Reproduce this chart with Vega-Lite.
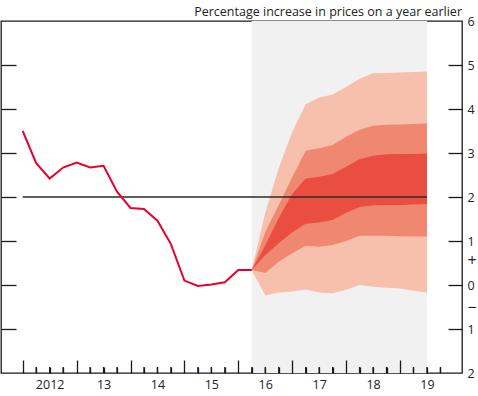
{
  "$schema": "https://vega.github.io/schema/vega-lite/v6.json",
  "width": 461,
  "height": 352,
  "autosize": {"type": "none"},
  "padding": {"left": 1, "top": 21, "right": 16, "bottom": 23},
  "background": "white",
  "view": {"stroke": "#1a1a1a", "strokeWidth": 1.3},
  "config": {
    "font": "Open Sans",
    "axis": {"labelFont": "Open Sans", "labelFontSize": 12.5, "labelColor": "#222", "tickColor": "#1a1a1a", "tickWidth": 1.3, "domain": false, "grid": false, "title": null}
  },
  "title": {"text": "Percentage increase in prices on a year earlier", "anchor": "end", "frame": "group", "orient": "top", "baseline": "alphabetic", "offset": 0, "dy": 13, "fontSize": 12.5, "fontWeight": "normal", "font": "Open Sans", "color": "#222"},
  "datasets": {
    "cpi": [
      {"t": 2012.0, "v": 3.5}, {"t": 2012.25, "v": 2.77}, {"t": 2012.5, "v": 2.42}, {"t": 2012.75, "v": 2.67},
      {"t": 2013.0, "v": 2.78}, {"t": 2013.25, "v": 2.67}, {"t": 2013.5, "v": 2.71}, {"t": 2013.75, "v": 2.12},
      {"t": 2014.0, "v": 1.75}, {"t": 2014.25, "v": 1.73}, {"t": 2014.5, "v": 1.46}, {"t": 2014.75, "v": 0.93},
      {"t": 2015.0, "v": 0.1}, {"t": 2015.25, "v": -0.02}, {"t": 2015.5, "v": 0.01}, {"t": 2015.75, "v": 0.06},
      {"t": 2016.0, "v": 0.34}, {"t": 2016.25, "v": 0.34}
    ],
    "fan": [
      {"t": 2016.25, "b1": 0.34, "b2": 0.34, "b3": 0.34, "b4": 0.34, "b5": 0.34, "b6": 0.34},
      {"t": 2016.5, "b1": 1.64, "b2": 1.2, "b3": 0.9, "b4": 0.68, "b5": 0.27, "b6": -0.24},
      {"t": 2016.75, "b1": 2.66, "b2": 1.82, "b3": 1.52, "b4": 0.95, "b5": 0.53, "b6": -0.17},
      {"t": 2017.0, "b1": 3.48, "b2": 2.45, "b3": 2.07, "b4": 1.2, "b5": 0.72, "b6": -0.15},
      {"t": 2017.25, "b1": 4.11, "b2": 3.05, "b3": 2.42, "b4": 1.39, "b5": 0.89, "b6": -0.1},
      {"t": 2017.5, "b1": 4.26, "b2": 3.11, "b3": 2.46, "b4": 1.42, "b5": 0.87, "b6": -0.17},
      {"t": 2017.75, "b1": 4.33, "b2": 3.18, "b3": 2.52, "b4": 1.48, "b5": 0.91, "b6": -0.19},
      {"t": 2018.0, "b1": 4.5, "b2": 3.37, "b3": 2.69, "b4": 1.64, "b5": 1.0, "b6": -0.11},
      {"t": 2018.25, "b1": 4.69, "b2": 3.53, "b3": 2.86, "b4": 1.77, "b5": 1.12, "b6": 0.0},
      {"t": 2018.5, "b1": 4.81, "b2": 3.62, "b3": 2.94, "b4": 1.81, "b5": 1.12, "b6": -0.04},
      {"t": 2018.75, "b1": 4.82, "b2": 3.64, "b3": 2.97, "b4": 1.82, "b5": 1.12, "b6": -0.06},
      {"t": 2019.0, "b1": 4.83, "b2": 3.65, "b3": 2.98, "b4": 1.82, "b5": 1.11, "b6": -0.08},
      {"t": 2019.25, "b1": 4.84, "b2": 3.66, "b3": 2.98, "b4": 1.83, "b5": 1.1, "b6": -0.13},
      {"t": 2019.5, "b1": 4.85, "b2": 3.67, "b3": 2.99, "b4": 1.84, "b5": 1.1, "b6": -0.17}
    ],
    "quarters": [
      {"t": 2012.25}, {"t": 2012.5}, {"t": 2012.75}, {"t": 2013.25}, {"t": 2013.5}, {"t": 2013.75},
      {"t": 2014.25}, {"t": 2014.5}, {"t": 2014.75}, {"t": 2015.25}, {"t": 2015.5}, {"t": 2015.75},
      {"t": 2016.25}, {"t": 2016.5}, {"t": 2016.75}, {"t": 2017.25}, {"t": 2017.5}, {"t": 2017.75},
      {"t": 2018.25}, {"t": 2018.5}, {"t": 2018.75}, {"t": 2019.25}, {"t": 2019.5}, {"t": 2019.75}
    ],
    "shade": [{"t": 2016.25, "t2": 2019.5}],
    "target": [{"t": 2012.0, "t2": 2019.5, "v": 2}]
  },
  "resolve": {"axis": {"y": "independent"}},
  "encoding": {
    "x": {"field": "t", "type": "quantitative",
      "scale": {"domain": [2011.5974, 2020.15], "nice": false, "zero": false},
      "axis": {
        "values": [2012, 2012.25, 2012.5, 2012.75, 2013, 2013.25, 2013.5, 2013.75, 2014, 2014.25, 2014.5, 2014.75, 2015, 2015.25, 2015.5, 2015.75, 2016, 2016.25, 2016.5, 2016.75, 2017, 2017.25, 2017.5, 2017.75, 2018, 2018.25, 2018.5, 2018.75, 2019, 2019.25, 2019.5, 2019.75],
        "tickCount": 64,
        "tickSize": {"condition": {"test": "datum.value % 1 == 0", "value": -13}, "value": -6},
        "labelExpr": "(datum.value % 1 == 0.5) ? (floor(datum.value) == 2012 ? '2012' : substring(toString(floor(datum.value)), 2)) : ''",
        "labelOverlap": false,
        "labelFlush": false,
        "labelPadding": 11,
        "zindex": 1
      }
    }
  },
  "layer": [
    {
      "data": {"name": "shade"},
      "mark": {"type": "rect", "color": "#f1f1f1"},
      "encoding": {
        "x2": {"field": "t2"}
      }
    },
    {
      "data": {"name": "fan"},
      "mark": {"type": "area", "color": "#f7c0ad", "opacity": 1},
      "encoding": {
        "y": {"field": "b1", "type": "quantitative",
          "scale": {"domain": [-2, 6], "nice": false, "zero": false},
          "axis": {"orient": "left", "values": [-1, 0, 1, 2, 3, 4, 5], "tickCount": 20, "tickSize": -15, "labels": false, "zindex": 1}
        },
        "y2": {"field": "b6"}
      }
    },
    {
      "data": {"name": "fan"},
      "mark": {"type": "area", "color": "#f08770", "opacity": 1},
      "encoding": {
        "y": {"field": "b2", "type": "quantitative", "axis": null},
        "y2": {"field": "b5"}
      }
    },
    {
      "data": {"name": "fan"},
      "mark": {"type": "area", "color": "#e94e40", "opacity": 1},
      "encoding": {
        "y": {"field": "b3", "type": "quantitative", "axis": null},
        "y2": {"field": "b4"}
      }
    },
    {
      "data": {"name": "target"},
      "mark": {"type": "rule", "color": "#2a2a2a", "strokeWidth": 1.4},
      "encoding": {
        "x2": {"field": "t2"},
        "y": {"field": "v", "type": "quantitative", "axis": null}
      }
    },
    {
      "data": {"name": "quarters"},
      "mark": {"type": "tick", "orient": "vertical", "color": "#1a1a1a", "size": 12, "thickness": 1.3, "opacity": 1, "clip": true},
      "encoding": {
        "y": {"datum": -2, "type": "quantitative", "axis": null}
      }
    },
    {
      "data": {"name": "cpi"},
      "mark": {"type": "line", "color": "#e4032e", "strokeWidth": 2},
      "encoding": {
        "y": {"field": "v", "type": "quantitative",
          "axis": {
            "orient": "right",
            "values": [-2, -1, -0.5, 0, 0.55, 1, 2, 3, 4, 5, 6],
            "tickCount": 30,
            "tickSize": -14,
            "tickOpacity": {"condition": {"test": "datum.value == 6 || datum.value == -2 || datum.value == 0.55 || datum.value == -0.5", "value": 0}, "value": 1},
            "labelExpr": "datum.value == 0.55 ? '+' : (datum.value == -0.5 ? '\u2212' : toString(abs(datum.value)))",
            "labelFontSize": {"condition": {"test": "datum.value == 0.55 || datum.value == -0.5", "value": 16}, "value": 12.5},
            "labelOverlap": false,
            "labelFlush": false,
            "labelAlign": "left",
            "labelPadding": 19
          }
        }
      }
    }
  ]
}
